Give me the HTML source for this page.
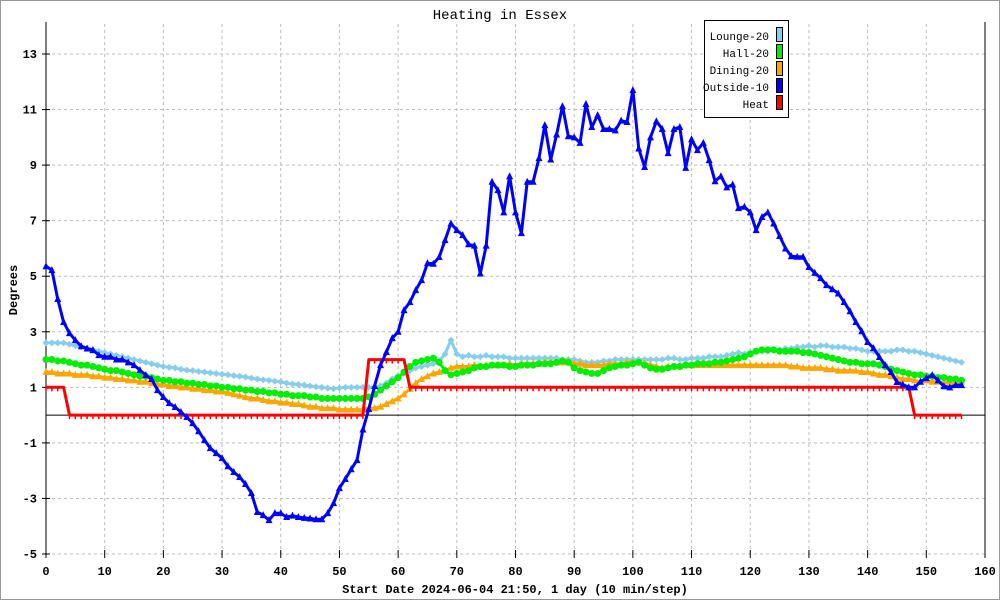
<!DOCTYPE html>
<html><head><meta charset="utf-8"><style>
html,body{margin:0;padding:0;background:#fff}
svg{display:block}
text{font-family:"Liberation Mono","DejaVu Sans Mono",monospace}
</style></head><body>
<svg id="chart" width="1000" height="600" viewBox="0 0 1000 600" xmlns="http://www.w3.org/2000/svg">
<rect x="0.5" y="0.5" width="999" height="599" fill="#fff" stroke="#999" stroke-width="1"/>
<text x="500" y="19" text-anchor="middle" font-size="14">Heating in Essex</text>
<text x="17" y="290" text-anchor="middle" font-size="12" font-weight="bold" transform="rotate(-90 17 290)">Degrees</text>
<text x="515" y="593" text-anchor="middle" font-size="12" font-weight="bold">Start Date 2024-06-04 21:50, 1 day (10 min/step)</text>
<g id="grid"></g>
<g id="axes"></g>
<g id="series"></g>
<g>
<rect x="704.5" y="20.5" width="84" height="97" fill="#fff" stroke="#000"/>
<g><text x="769" y="40" text-anchor="end" font-size="11">Lounge-20</text><rect x="776.5" y="27.5" width="6" height="14" fill="#87ceeb" stroke="#000"/></g>
<g><text x="769" y="57" text-anchor="end" font-size="11">Hall-20</text><rect x="776.5" y="44.5" width="6" height="14" fill="#00ee00" stroke="#000"/></g>
<g><text x="769" y="74" text-anchor="end" font-size="11">Dining-20</text><rect x="776.5" y="61.5" width="6" height="14" fill="#ffa500" stroke="#000"/></g>
<g><text x="769" y="91" text-anchor="end" font-size="11">Outside-10</text><rect x="776.5" y="78.5" width="6" height="14" fill="#0000ff" stroke="#000"/></g>
<g><text x="769" y="108" text-anchor="end" font-size="11">Heat</text><rect x="776.5" y="95.5" width="6" height="14" fill="#ff0000" stroke="#000"/></g>
</g>
</svg>
<script>
const xTicks = [0,10,20,30,40,50,60,70,80,90,100,110,120,130,140,150,160];
const yTicks = [13,11,9,7,5,3,1,-1,-3,-5];
const lounge = [2.6,2.6,2.6,2.6,2.55,2.5,
2.45,2.4,2.35,2.3,2.25,2.2,2.15,2.1,2.05,2.0,1.95,1.9,1.85,1.8,1.75,
1.72,1.7,1.65,1.62,1.6,1.57,1.55,1.52,1.5,1.47,1.45,1.42,1.4,1.37,1.33,1.3,1.27,1.25,1.22,1.2,1.15,1.12,1.1,1.08,1.05,1.02,1.0,0.97,0.95,0.98,
1.0,1.0,1.0,1.0,1.0,1.0,1.05,
1.15,1.3,1.4,1.5,1.6,1.7,1.75,1.8,1.85,1.95,2.2,
2.7,2.2,
2.1,2.15,2.1,2.1,2.15,2.1,2.1,2.1,2.05,2.05,2.05,2.05,2.05,2.05,2.05,2.05,2.05,2.0,2.0,2.0,
1.95,1.9,1.9,1.9,1.95,1.95,2.0,2.0,2.0,2.0,
2.0,2.0,2.0,2.0,2.0,2.05,2.05,2.0,2.0,2.05,2.05,2.05,2.1,2.1,2.1,2.15,2.2,2.25,2.2,2.25,
2.3,2.3,2.3,2.35,2.35,2.4,2.4,2.45,2.45,2.5,2.45,2.5,2.5,2.45,2.45,2.45,2.4,2.4,2.35,2.3,
2.3,2.3,2.3,2.3,2.35,2.35,2.3,2.3,2.25,2.2,2.15,2.1,2.05,2.0,1.95,1.9];
const hall = [2.0,2.0,1.95,1.95,1.9,1.85,1.8,1.8,1.75,1.7,1.65,1.6,1.6,1.55,1.5,1.45,1.4,1.4,1.35,1.3,1.25,
1.25,1.2,1.2,1.15,1.15,1.1,1.1,1.05,1.05,1.0,1.0,0.95,0.95,0.9,0.9,0.85,0.85,0.8,0.8,0.75,0.75,0.7,0.7,0.7,0.65,0.65,0.6,0.6,0.6,0.6,
0.6,0.6,0.6,0.6,0.65,0.75,0.9,1.05,1.2,1.35,1.55,1.75,1.9,1.95,2.0,2.05,1.9,
1.6,1.45,1.5,1.55,1.6,1.7,1.75,1.75,1.8,1.8,1.8,1.75,1.75,1.8,1.8,1.8,1.85,1.85,1.85,1.9,1.95,
1.9,1.7,1.6,1.55,1.5,1.5,1.6,1.7,1.75,1.8,1.8,1.85,1.9,1.8,1.7,1.65,1.65,1.7,1.75,1.75,1.8,1.8,
1.85,1.85,1.85,1.9,1.9,1.95,2.0,2.05,2.1,2.2,2.3,2.35,2.35,2.35,2.3,2.3,2.3,2.3,2.25,2.25,
2.2,2.15,2.1,2.05,2.0,1.95,1.9,1.9,1.85,1.85,1.85,1.8,1.75,1.65,1.6,1.55,1.5,1.45,1.45,1.4,1.4,1.35,1.35,1.3,1.3,1.25];
const dining = [1.55,1.55,1.5,1.5,1.5,1.45,1.45,1.45,1.4,1.4,1.35,1.35,1.3,1.3,1.25,1.25,1.2,1.2,1.15,1.1,1.1,
1.05,1.05,1.0,1.0,0.95,0.95,0.9,0.9,0.85,0.85,0.8,0.75,0.7,0.65,0.6,0.6,0.55,0.5,0.5,0.45,0.45,0.4,0.4,0.35,0.3,0.3,0.25,0.25,0.25,0.2,
0.2,0.2,0.2,0.2,0.25,0.25,0.3,0.4,0.5,0.6,0.75,0.95,1.15,1.3,1.4,1.5,1.55,
1.6,1.7,1.75,1.75,1.75,1.8,1.75,1.8,1.8,1.8,1.8,1.85,1.8,1.85,1.85,1.85,1.85,1.9,1.9,1.9,1.9,
1.95,1.85,1.85,1.8,1.8,1.8,1.8,1.85,1.85,1.85,1.9,1.9,1.9,1.85,1.8,1.75,1.7,1.75,1.75,1.75,1.8,1.8,
1.8,1.8,1.8,1.8,1.8,1.8,1.8,1.8,1.8,1.8,1.8,1.8,1.8,1.8,1.8,1.8,1.75,1.75,1.7,1.7,
1.7,1.7,1.65,1.65,1.6,1.6,1.6,1.6,1.55,1.55,1.5,1.45,1.45,1.4,1.35,1.3,1.3,1.25,1.2,1.25,1.2,1.2,1.15,1.2,1.15,1.2];
const outside = [5.36,5.22,4.18,3.35,2.95,2.7,2.48,2.4,2.34,2.16,2.1,2.1,2.0,2.0,1.9,1.8,1.62,1.44,1.3,0.9,
0.65,0.43,0.29,0.11,-0.07,-0.29,-0.58,-0.9,-1.19,-1.37,-1.55,-1.84,-2.05,-2.23,-2.48,-2.81,-3.49,-3.6,-3.78,-3.53,
-3.53,-3.67,-3.62,-3.67,-3.7,-3.72,-3.75,-3.75,-3.53,-3.17,-2.63,-2.3,-1.95,-1.62,-0.52,0.22,1.05,1.8,2.27,2.77,
3.0,3.78,4.07,4.5,4.86,5.47,5.45,5.69,6.3,6.9,6.66,6.48,6.15,6.1,5.1,6.1,8.4,8.1,7.3,8.6,
7.3,6.55,8.4,8.4,9.25,10.44,9.2,10.1,11.12,10.04,10.0,9.8,11.2,10.37,10.8,10.3,10.3,10.25,10.6,10.55,
11.7,9.6,8.93,10.0,10.58,10.3,9.43,10.3,10.37,8.9,9.93,9.54,9.8,9.18,8.42,8.6,8.2,8.3,7.45,7.5,
7.3,6.66,7.13,7.3,6.9,6.45,6.0,5.72,5.7,5.7,5.33,5.12,4.93,4.68,4.53,4.38,4.07,3.74,3.35,3.02,
2.63,2.41,2.09,1.8,1.55,1.19,1.1,1.0,1.0,1.2,1.33,1.44,1.25,1.04,1.0,1.08,1.08];
const heat = [];
for (let i=0;i<157;i++){ heat.push(i<4?1:(i<55?0:(i<62?2:(i<148?1:0)))); }

const X0=46, X1=985, XMIN=0, XMAX=160, YTOP=54, YBOT=554, YMAX=13, YMIN=-5;
function xs(v){return X0+(v-XMIN)/(XMAX-XMIN)*(X1-X0);}
function ys(v){return YBOT-(v-YMIN)/(YMAX-YMIN)*(YBOT-YTOP);}
const NS="http://www.w3.org/2000/svg";
function mk(tag,parent,attrs){const e=document.createElementNS(NS,tag);for(const k in attrs)e.setAttribute(k,attrs[k]);parent.appendChild(e);return e;}
const grid=document.getElementById('grid'), axes=document.getElementById('axes'), ser=document.getElementById('series');

xTicks.forEach(t=>{
  const x=xs(t);
  if(t>0&&t<XMAX){const g=mk('line',grid,{x1:x,x2:x,y1:YTOP-30,y2:YBOT,stroke:'#bbb','stroke-dasharray':'3,3'});
  
  }
  const tk=mk('line',axes,{x1:x,x2:x,y1:YBOT-4,y2:YBOT+4,stroke:'#000'});
  
  
  const tl=mk('text',axes,{x:x,y:YBOT+21,'text-anchor':'middle','font-size':'12','font-weight':'bold'});
  tl.textContent=String(t);
  
  
});
yTicks.forEach(t=>{
  const y=ys(t);
  const g=mk('line',grid,{x1:X0,x2:X1,y1:y,y2:y,stroke:'#bbb','stroke-dasharray':'3,3'});
  
  
  const tk=mk('line',axes,{x1:X0-4,x2:X0+4,y1:y,y2:y,stroke:'#000'});
  
  
  const tl=mk('text',axes,{x:X0-9,y:y+4,'text-anchor':'end','font-size':'12','font-weight':'bold'});
  tl.textContent=String(t);
  
  
});
const ax1=mk('line',axes,{x1:X0,x2:X0,y1:22,y2:YBOT,stroke:'#000'});


const ax2=mk('line',axes,{x1:X1,x2:X1,y1:22,y2:YBOT,stroke:'#000'});


const ax3=mk('line',axes,{x1:X0,x2:X1,y1:ys(0),y2:ys(0),stroke:'#000'});



function drawSeries(data,color,name,marker){
  const g=mk('g',ser,{});
  
  
  const pts=data.map((v,i)=>xs(i).toFixed(1)+','+ys(v).toFixed(1)).join(' ');
  const pl=mk('polyline',g,{points:pts,fill:'none',stroke:color,'stroke-width':'3','stroke-linejoin':'round'});
  
  
  data.forEach((v,i)=>{
    const x=xs(i),y=ys(v);let m;
    if(marker==='circle') m=mk('circle',g,{cx:x,cy:y,r:3.5,fill:color});
    else if(marker==='tri') m=mk('polygon',g,{points:`${x},${y-4} ${x-3.5},${y+3} ${x+3.5},${y+3}`,fill:color});
    else if(marker==='cross') m=mk('polygon',g,{points:`${x},${y-3.5} ${x+3.5},${y} ${x},${y+3.5} ${x-3.5},${y}`,fill:color});
    else m=mk('line',g,{x1:x,x2:x,y1:y,y2:y+4,stroke:color,'stroke-width':'1.5'});
    
    
  });
}
drawSeries(lounge,'#87ceeb','lounge','cross');
drawSeries(dining,'#ffa500','dining','tri');
drawSeries(hall,'#00ee00','hall','circle');
drawSeries(heat,'#ff0000','heat','tick');
drawSeries(outside,'#0000ff','outside','tri');
</script>
</body></html>
